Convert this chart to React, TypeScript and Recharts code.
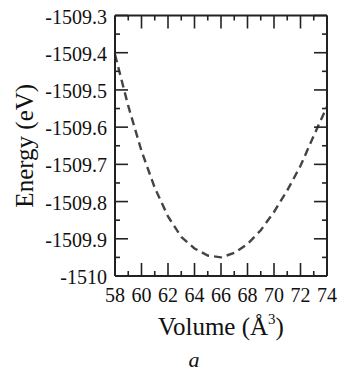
import { Line, LineChart, XAxis, YAxis } from "recharts";

const volume = [58, 59, 60, 61, 62, 63, 64, 65, 66, 67, 68, 69, 70, 71, 72, 73, 74];
const energy = [
  -1509.405, -1509.543, -1509.664, -1509.763, -1509.84, -1509.895, -1509.926, -1509.945, -1509.95,
  -1509.938, -1509.914, -1509.877, -1509.828, -1509.77, -1509.704, -1509.623, -1509.545,
];
const xTicks = [58, 59, 60, 61, 62, 63, 64, 65, 66, 67, 68, 69, 70, 71, 72, 73, 74];
const yTicks = [
  -1510, -1509.95, -1509.9, -1509.85, -1509.8, -1509.75, -1509.7, -1509.65, -1509.6, -1509.55, -1509.5,
  -1509.45, -1509.4, -1509.35, -1509.3,
];

const data = volume.map((v, i) => ({ volume: v, energy: energy[i] }));

const FONT = "Liberation Serif, DejaVu Serif, serif";
const INK = "#222";
const txt = { fontFamily: FONT };

const majorX = (v: number) => v % 2 === 0;
const majorY = (v: number) => Math.abs(Math.round(v * 100)) % 10 === 0;

function LeftTick({ x, y, payload }: any) {
  const v = payload.value;
  const major = majorY(v);
  return (
    <g>
      <line x1={x} x2={x + (major ? 13 : 5)} y1={y} y2={y} stroke={INK} strokeWidth={1.6} />
      {major && (
        <text x={x - 8} y={y + 8} textAnchor="end" style={txt} fontSize={20} fill="#111">
          {String(v)}
        </text>
      )}
    </g>
  );
}

function RightTick({ x, y, payload }: any) {
  const major = majorY(payload.value);
  return <line x1={x} x2={x - (major ? 13 : 5)} y1={y} y2={y} stroke={INK} strokeWidth={1.6} />;
}

function BottomTick({ x, y, payload }: any) {
  const v = payload.value;
  const major = majorX(v);
  return (
    <g>
      <line x1={x} x2={x} y1={y} y2={y - (major ? 13 : 5)} stroke={INK} strokeWidth={1.6} />
      {major && (
        <text x={x} y={y + 26} textAnchor="middle" style={txt} fontSize={20} fill="#111">
          {String(v)}
        </text>
      )}
    </g>
  );
}

function TopTick({ x, y, payload }: any) {
  const major = majorX(payload.value);
  return <line x1={x} x2={x} y1={y} y2={y + (major ? 13 : 5)} stroke={INK} strokeWidth={1.6} />;
}

function XTitle({ viewBox }: any) {
  const cx = viewBox.x + viewBox.width / 2;
  return (
    <g style={txt} fill="#111">
      <text x={cx} y={viewBox.y + 59} textAnchor="middle" fontSize={25} style={txt}>
        Volume (Å<tspan dy={-11} fontSize={15}>3</tspan>
        <tspan dy={11}>)</tspan>
      </text>
      <text x={cx - 27} y={viewBox.y + 91} textAnchor="middle" fontSize={22} fontStyle="italic" style={txt}>
        a
      </text>
    </g>
  );
}

function YTitle({ viewBox }: any) {
  const cy = viewBox.y + viewBox.height / 2;
  return (
    <text
      x={33}
      y={cy}
      transform={`rotate(-90 33 ${cy})`}
      textAnchor="middle"
      style={txt}
      fontSize={25}
      fill="#111"
    >
      Energy (eV)
    </text>
  );
}

export default function App() {
  return (
    <div style={{ position: "absolute", left: 0, top: 0, background: "#fff" }}>
      <LineChart width={339} height={374} data={data} margin={{ top: 14.5, right: 11, bottom: 0, left: 0 }}>
        <XAxis
          dataKey="volume"
          type="number"
          domain={[58, 74]}
          ticks={xTicks}
          interval={0}
          height={98}
          tickSize={0}
          tickMargin={0}
          tickLine={false}
          tick={<BottomTick />}
          axisLine={{ stroke: INK, strokeWidth: 2 }}
          label={<XTitle />}
          allowDataOverflow
        />
        <XAxis
          xAxisId="top"
          orientation="top"
          dataKey="volume"
          type="number"
          domain={[58, 74]}
          ticks={xTicks}
          interval={0}
          height={1}
          tickSize={0}
          tickMargin={0}
          tickLine={false}
          tick={<TopTick />}
          axisLine={{ stroke: INK, strokeWidth: 2 }}
          allowDataOverflow
        />
        <YAxis
          type="number"
          domain={[-1510, -1509.3]}
          ticks={yTicks}
          interval={0}
          width={115}
          tickSize={0}
          tickMargin={0}
          tickLine={false}
          tick={<LeftTick />}
          axisLine={{ stroke: INK, strokeWidth: 2 }}
          label={<YTitle />}
          allowDataOverflow
        />
        <YAxis
          yAxisId="right"
          orientation="right"
          dataKey="energy"
          type="number"
          domain={[-1510, -1509.3]}
          ticks={yTicks}
          interval={0}
          width={1}
          tickSize={0}
          tickMargin={0}
          tickLine={false}
          tick={<RightTick />}
          axisLine={{ stroke: INK, strokeWidth: 2 }}
          allowDataOverflow
        />
        <Line
          dataKey="energy"
          type="linear"
          stroke="#444"
          strokeWidth={2.4}
          strokeDasharray="8 5"
          dot={false}
          isAnimationActive={false}
        />
      </LineChart>
    </div>
  );
}
